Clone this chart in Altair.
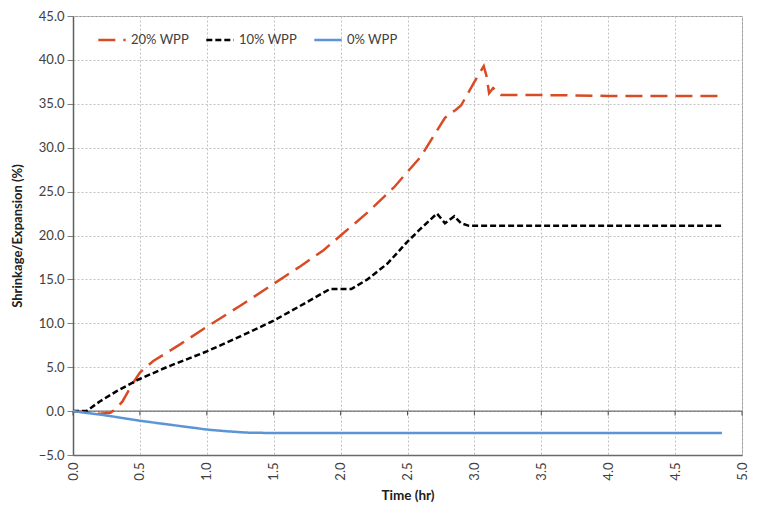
import altair as alt
import pandas as pd

# ---- data ----
series = ["20% WPP", "10% WPP", "0% WPP"]
colors = ["#D84B25", "#000000", "#5B95D6"]
dashes = [[17, 8], [6, 3], [1, 0]]

t20 = [0, 0.1, 0.2, 0.28, 0.33, 0.37, 0.44, 0.5, 0.6, 0.8, 1.0, 1.25, 1.5, 1.7, 1.87,
       2.0, 2.2, 2.4, 2.6, 2.78, 2.82, 2.86, 2.9, 3.0, 3.07, 3.09, 3.11, 3.14, 3.2,
       3.5, 4.0, 4.5, 4.85]
v20 = [0, -0.1, -0.3, -0.2, 0.4, 1.1, 3.0, 4.4, 5.7, 7.6, 9.6, 12.0, 14.5, 16.5, 18.3,
       20.0, 22.6, 25.5, 29.0, 33.4, 33.9, 34.3, 34.8, 37.5, 39.3, 38.2, 36.2, 36.8, 36.0,
       36.0, 35.9, 35.9, 35.9]

t10 = [0, 0.1, 0.2, 0.33, 0.49, 0.7, 1.0, 1.25, 1.5, 1.7, 1.92, 2.08, 2.2, 2.35, 2.5,
       2.6, 2.72, 2.78, 2.85, 2.9, 2.96, 3.2, 3.5, 4.0, 4.5, 4.85]
v10 = [0, 0, 1.1, 2.3, 3.6, 5.0, 6.8, 8.5, 10.3, 12.0, 13.9, 13.9, 15.0, 16.8, 19.3,
       20.8, 22.5, 21.4, 22.2, 21.4, 21.1, 21.1, 21.1, 21.1, 21.1, 21.1]

t0 = [0, 0.25, 0.5, 0.75, 1.0, 1.15, 1.3, 1.5, 2.0, 3.0, 4.0, 4.85]
v0 = [0, -0.5, -1.1, -1.6, -2.1, -2.3, -2.45, -2.5, -2.5, -2.5, -2.5, -2.5]

x_ticks = [0, 0.5, 1.0, 1.5, 2.0, 2.5, 3.0, 3.5, 4.0, 4.5, 5.0]
y_ticks = [-5, 0, 5, 10, 15, 20, 25, 30, 35, 40, 45]

rows = []
for name, ts, vs in [(series[0], t20, v20), (series[1], t10, v10), (series[2], t0, v0)]:
    for t, v in zip(ts, vs):
        rows.append({"series": name, "t": t, "v": v})
df = pd.DataFrame(rows)

FONT = "Lato"
TXT = "#404040"

legend_cfg = dict(
    title=None, orient="none", direction="horizontal", legendX=24, legendY=9,
    symbolType="stroke", symbolStrokeWidth=2.5, symbolSize=750,
    labelFont=FONT, labelFontSize=13, labelColor=TXT, columnPadding=12,
    labelOffset=4,
)

xs = alt.Scale(domain=[0, 5], nice=False)
ys = alt.Scale(domain=[-5, 45], nice=False)

lines = alt.Chart(df).mark_line(strokeWidth=2.5, clip=True).encode(
    x=alt.X("t:Q", scale=xs, axis=alt.Axis(
        title="Time (hr)", values=x_ticks, format=".1f", labelAngle=270,
        grid=True, ticks=False, labelPadding=7, titlePadding=8,
        titleFontSize=13.5, domainColor="#6a6a6a", domainWidth=1.5)),
    y=alt.Y("v:Q", scale=ys, axis=alt.Axis(
        title="Shrinkage/Expansion (%)", values=y_ticks, format=".1f",
        grid=True, ticks=True, tickSize=6, labelPadding=3, titlePadding=14)),
    color=alt.Color("series:N", scale=alt.Scale(domain=series, range=colors),
                    legend=alt.Legend(**legend_cfg)),
    strokeDash=alt.StrokeDash("series:N", scale=alt.Scale(domain=series, range=dashes),
                              legend=alt.Legend(**legend_cfg)),
)

zero = alt.Chart(pd.DataFrame({"z": [0]})).mark_rule(color="#505050", strokeWidth=1).encode(
    y=alt.Y("z:Q", scale=ys)
)

tick_df = pd.DataFrame({"t": x_ticks})
zticks = alt.Chart(tick_df).mark_rule(color="#505050", strokeWidth=1).encode(
    x=alt.X("t:Q", scale=xs),
    y=alt.datum(0),
    y2=alt.datum(-0.5),
)

chart = alt.layer(zero, zticks, lines).properties(
    width=669, height=439,
    autosize=alt.AutoSizeParams(type="none"),
    padding={"left": 65, "top": 8, "right": 8, "bottom": 54},
).configure_view(
    stroke="#9a9a9a", strokeWidth=1
).configure_axis(
    labelFont=FONT, labelFontSize=13, labelColor=TXT,
    titleFont=FONT, titleFontSize=13, titleFontWeight="bold", titleColor="#202020",
    gridColor="#c2c2c2", gridDash=[2, 2], gridWidth=1,
    domainColor="#808080", tickColor="#808080",
).configure_axisY(domainColor="#606060", domainWidth=1.5)

chart.save("out.html", embed_options={"renderer": "svg", "actions": False})
